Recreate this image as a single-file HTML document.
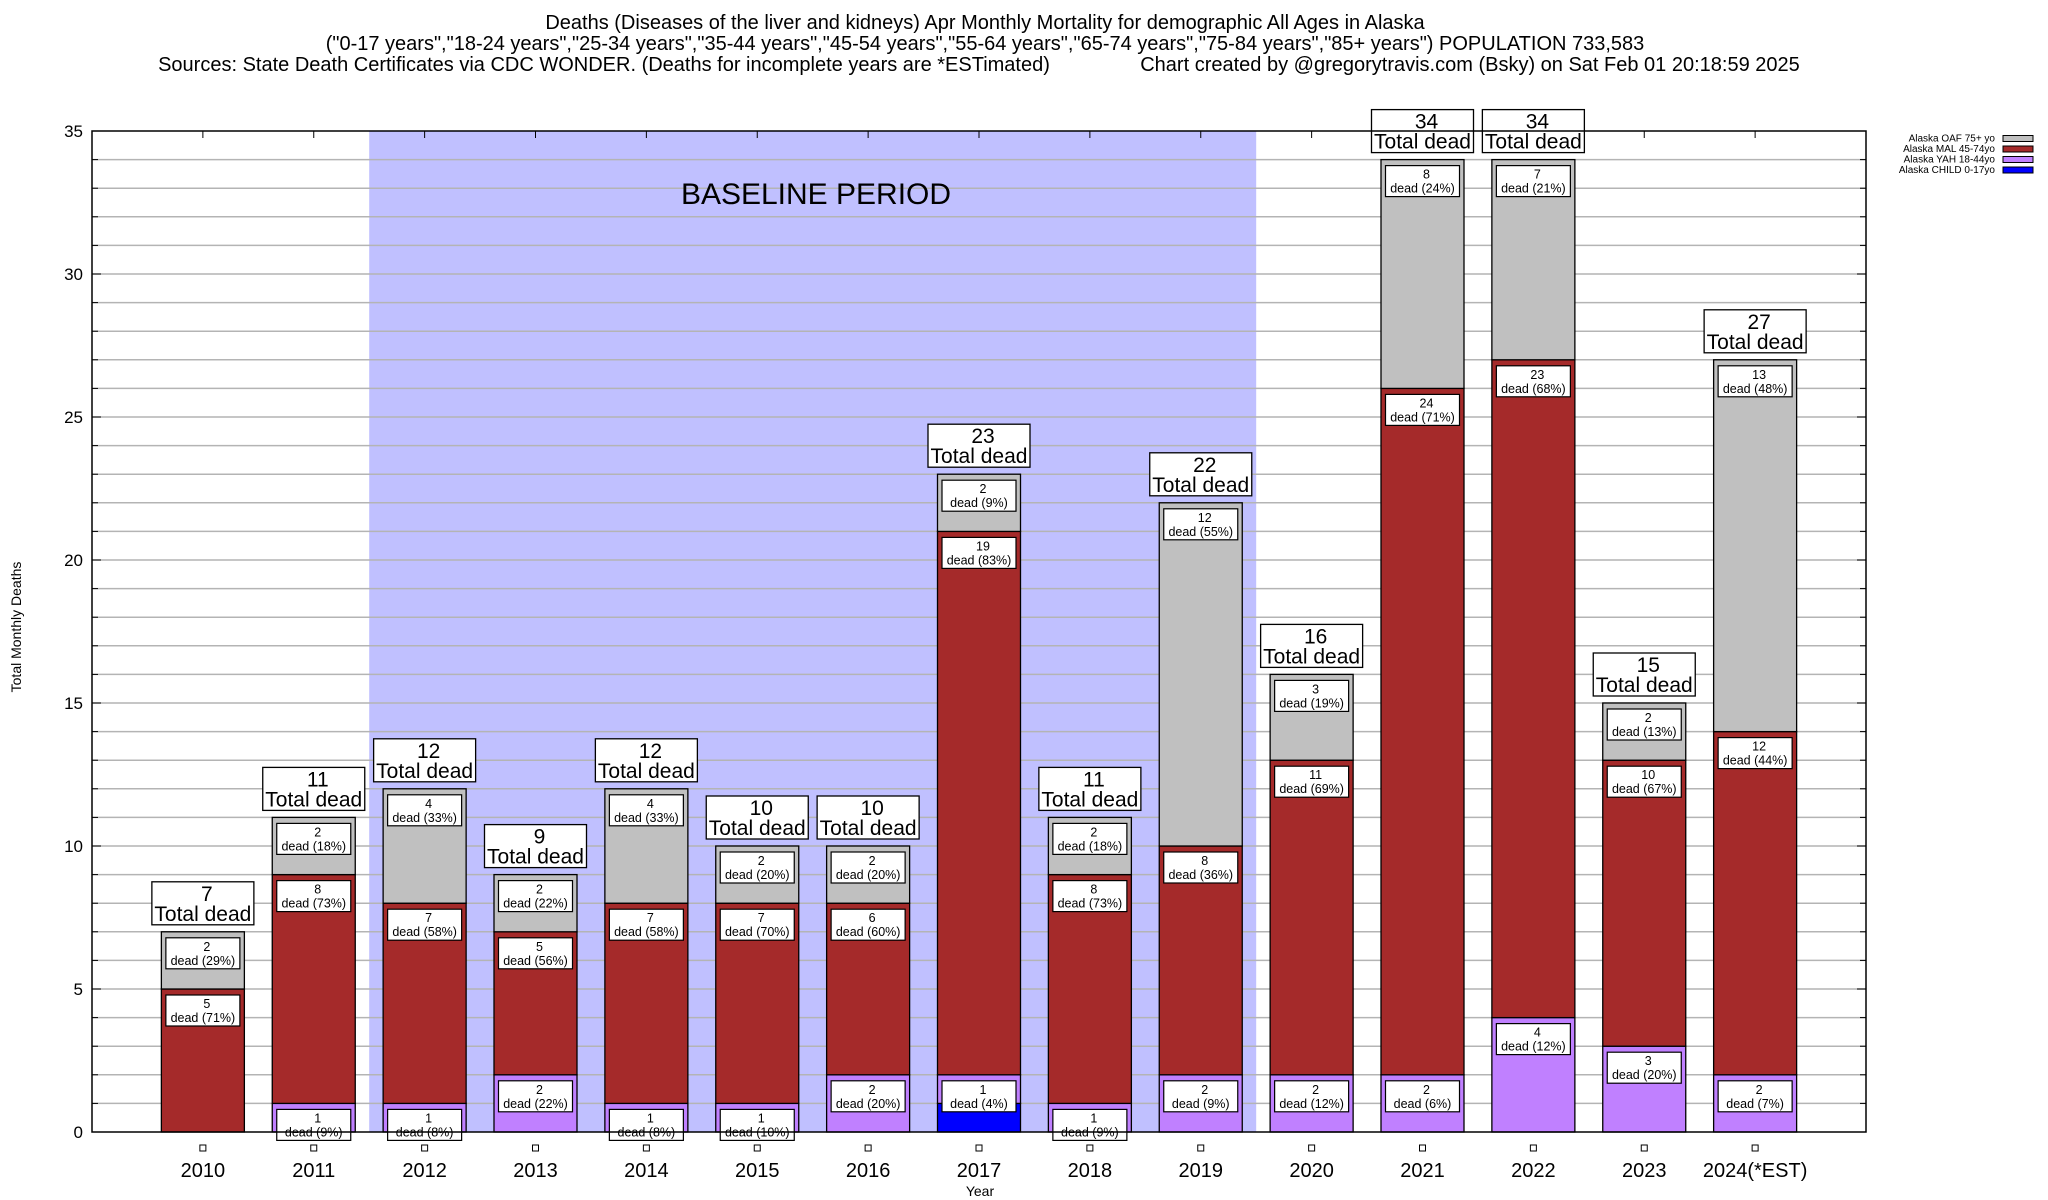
<!DOCTYPE html>
<html><head><meta charset="utf-8"><style>
html,body{margin:0;padding:0;background:#fff;}
svg{display:block;font-family:"Liberation Sans",Arial,sans-serif;}
</style></head><body>
<svg id="chart" width="2048" height="1200" viewBox="0 0 2048 1200" xmlns="http://www.w3.org/2000/svg">
<g font-size="20" text-anchor="middle" fill="#000">
<text x="985" y="29">Deaths (Diseases of the liver and kidneys) Apr Monthly Mortality for demographic All Ages in Alaska</text>
<text x="985" y="50">("0-17 years","18-24 years","25-34 years","35-44 years","45-54 years","55-64 years","65-74 years","75-84 years","85+ years") POPULATION 733,583</text>
<text x="604" y="71">Sources: State Death Certificates via CDC WONDER. (Deaths for incomplete years are *ESTimated)</text>
<text x="1470" y="71">Chart created by @gregorytravis.com (Bsky) on Sat Feb 01 20:18:59 2025</text>
</g>
<g id="plot"></g>
<text transform="translate(21,627) rotate(-90)" text-anchor="middle" font-size="14">Total Monthly Deaths</text>
<text x="980" y="1196" text-anchor="middle" font-size="14">Year</text>
<text x="816" y="204" text-anchor="middle" font-size="30">BASELINE PERIOD</text>
<g id="legend" font-size="10" text-anchor="end"></g>
</svg>
<script>
const categories=["2010","2011","2012","2013","2014","2015","2016","2017","2018","2019","2020","2021","2022","2023","2024(*EST)"];
const child=[0,0,0,0,0,0,0,1,0,0,0,0,0,0,0];
const yah=[0,1,1,2,1,1,2,1,1,2,2,2,4,3,2];
const mal=[5,8,7,5,7,7,6,19,8,8,11,24,23,10,12];
const oaf=[2,2,4,2,4,2,2,2,2,12,3,8,7,2,13];
const childPct=[0,0,0,0,0,0,0,4,0,0,0,0,0,0,0];
const yahPct=[0,9,8,22,8,10,20,4,9,9,12,6,12,20,7];
const malPct=[71,73,58,56,58,70,60,83,73,36,69,71,68,67,44];
const oafPct=[29,18,33,22,33,20,20,9,18,55,19,24,21,13,48];
const yTicks=[0,5,10,15,20,25,30,35];
const baselineStart=1.5, baselineEnd=9.5;

const NS="http://www.w3.org/2000/svg";
const L=92,R=1866,T=131,B=1132;
const xS=i=>L+(i+1)*(R-L)/16;
const yS=v=>B-v*(B-T)/35;
const plot=document.getElementById('plot');
function mk(tag,attrs,parent){const e=document.createElementNS(NS,tag);for(const k in attrs)e.setAttribute(k,attrs[k]);(parent||plot).appendChild(e);return e;}

let band=mk('rect',{x:xS(baselineStart),y:T,width:xS(baselineEnd)-xS(baselineStart),height:B-T,fill:'#c0c0ff'});


for(let v=1;v<35;v++){
  let g=mk('line',{x1:L,x2:R,y1:yS(v),y2:yS(v),stroke:'#b4b4b4','stroke-width':1.5});
  
  
  mk('line',{x1:L,x2:L+6,y1:yS(v),y2:yS(v),stroke:'#000'});
  mk('line',{x1:R-6,x2:R,y1:yS(v),y2:yS(v),stroke:'#000'});
}
yTicks.forEach(v=>{
  let t=mk('text',{x:L-9,y:yS(v)+6,'text-anchor':'end','font-size':17});
  t.textContent=v;
  
  
  mk('line',{x1:L,x2:L+9,y1:yS(v),y2:yS(v),stroke:'#000'});
  mk('line',{x1:R-9,x2:R,y1:yS(v),y2:yS(v),stroke:'#000'});
});
const series=[{d:child,p:childPct,c:'#0000ff',n:'child',lab:false},{d:yah,p:yahPct,c:'#c080ff',n:'yah',lab:true},{d:mal,p:malPct,c:'#a52a2a',n:'mal',lab:true},{d:oaf,p:oafPct,c:'#c0c0c0',n:'oaf',lab:true}];
const bw=83;
const labels=[];
categories.forEach((cat,i)=>{
  const cx=xS(i);let base=0;
  series.forEach(s=>{
    const v=s.d[i];if(v<=0)return;
    let r=mk('rect',{x:cx-bw/2,y:yS(base+v),width:bw,height:yS(base)-yS(base+v),fill:s.c,stroke:'#000','stroke-width':1.3});
    
    
    if(s.lab) labels.push({cx,top:yS(base+v),v,p:s.p[i],cat,n:s.n});
    base+=v;
  });
  const tot=child[i]+yah[i]+mal[i]+oaf[i];
  labels.push({total:true,cx,top:yS(tot),v:tot,cat});
  mk('line',{x1:cx,x2:cx,y1:T,y2:T+7,stroke:'#000'});
  let m=mk('rect',{x:cx-3,y:B+13,width:6,height:6,fill:'#fff',stroke:'#000'});
  
  
  let t=mk('text',{x:cx,y:B+45,'text-anchor':'middle','font-size':20});
  t.textContent=cat;
  
  
});
labels.forEach(o=>{
  const g=mk('g',{});
  if(o.total){
    
    
    const y0=o.top-50;
    mk('rect',{x:o.cx-51,y:y0,width:102,height:43,fill:'#fff',stroke:'#000','stroke-width':1.3},g);
    let a=mk('text',{x:o.cx+4,y:y0+19,'text-anchor':'middle','font-size':21},g);a.textContent=o.v;
    let b=mk('text',{x:o.cx,y:y0+39,'text-anchor':'middle','font-size':21},g);b.textContent='Total dead';
  }else{
    
    
    const y0=o.top+6;
    mk('rect',{x:o.cx-37,y:y0,width:74,height:31,fill:'#fff',stroke:'#000','stroke-width':1.2},g);
    let a=mk('text',{x:o.cx+4,y:y0+13,'text-anchor':'middle','font-size':12.5},g);a.textContent=o.v;
    let b=mk('text',{x:o.cx,y:y0+27,'text-anchor':'middle','font-size':12.5},g);b.textContent='dead ('+o.p+'%)';
  }
});
let fr=mk('rect',{x:L,y:T,width:R-L,height:B-T,fill:'none',stroke:'#000','stroke-width':1.5});


const lg=document.getElementById('legend');
const legNames=['Alaska OAF 75+ yo','Alaska MAL 45-74yo','Alaska YAH 18-44yo','Alaska CHILD 0-17yo'];
const legColors=['#c0c0c0','#a52a2a','#c080ff','#0000ff'];
legNames.forEach((n,k)=>{
  const y=138+k*10.5;
  const g=mk('g',{},lg);
  
  
  let t=mk('text',{x:1995,y:y+3.5},g);t.textContent=n;
  mk('rect',{x:2003,y:y-2.5,width:30,height:6,fill:legColors[k],stroke:'#000','stroke-width':1},g);
});
</script>
</body></html>
